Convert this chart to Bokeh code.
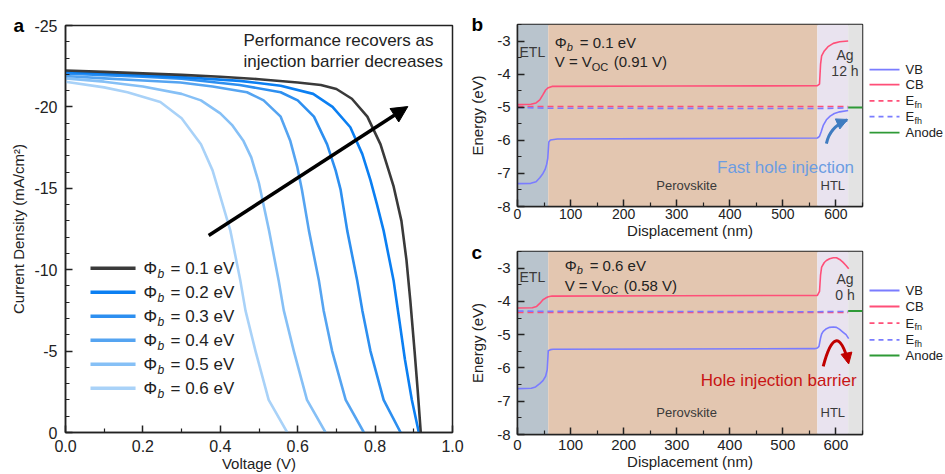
from bokeh.plotting import figure
from bokeh.layouts import row, column
from bokeh.models import Range1d, FixedTicker, Arrow, NormalHead, Title
from bokeh.core.properties import value
from bokeh.embed import file_html
from bokeh.resources import INLINE

FONT = "Liberation Sans"
INK = "#222222"

# ---------------- panel a data (J-V curves) ----------------
barrier_labels = ["0.1", "0.2", "0.3", "0.4", "0.5", "0.6"]
jv_colors = ["#3a3a3a", "#0b7ff2", "#2d8ff0", "#55a4f1", "#86c0f6", "#a9d2f8"]

v_01 = [0.0, 0.1, 0.2, 0.3, 0.4, 0.5, 0.6, 0.66, 0.7, 0.74, 0.78, 0.814, 0.835, 0.848, 0.868, 0.881, 0.891, 0.902, 0.910, 0.918]
j_01 = [-22.24, -22.15, -22.06, -21.97, -21.85, -21.7, -21.5, -21.35, -21.1, -20.5, -19.4, -17.7, -16.1, -15.1, -13.0, -10.6, -8.1, -5.0, -2.6, 0.0]
v_02 = [0.0, 0.1, 0.2, 0.3, 0.45, 0.556, 0.64, 0.69, 0.736, 0.767, 0.788, 0.805, 0.822, 0.848, 0.862, 0.877, 0.895, 0.913]
j_02 = [-22.15, -22.05, -21.95, -21.83, -21.6, -21.3, -20.8, -20.0, -18.75, -17.1, -15.5, -14.0, -12.4, -9.3, -7.0, -4.5, -2.0, 0.0]
v_03 = [0.0, 0.1, 0.2, 0.3, 0.45, 0.556, 0.6, 0.642, 0.676, 0.698, 0.711, 0.728, 0.754, 0.767, 0.788, 0.822, 0.866]
j_03 = [-22.05, -21.95, -21.85, -21.73, -21.35, -20.9, -20.4, -19.4, -17.7, -16.1, -14.9, -12.4, -9.3, -7.5, -5.0, -2.0, 0.0]
v_04 = [0.0, 0.1, 0.2, 0.297, 0.38, 0.469, 0.512, 0.556, 0.581, 0.599, 0.611, 0.629, 0.655, 0.667, 0.689, 0.724, 0.771]
j_04 = [-21.9, -21.75, -21.62, -21.5, -21.25, -20.9, -20.4, -19.4, -17.9, -16.3, -14.9, -12.4, -9.3, -7.5, -5.0, -2.0, 0.0]
v_05 = [0.0, 0.1, 0.2, 0.3, 0.35, 0.4, 0.43, 0.46, 0.48, 0.5, 0.526, 0.551, 0.564, 0.59, 0.624, 0.672]
j_05 = [-21.75, -21.55, -21.25, -20.8, -20.4, -19.6, -18.9, -17.9, -16.9, -15.3, -12.4, -9.3, -7.5, -5.0, -2.0, 0.0]
v_06 = [0.0, 0.1, 0.16, 0.245, 0.3, 0.35, 0.38, 0.395, 0.426, 0.452, 0.465, 0.491, 0.525, 0.573]
j_06 = [-21.55, -21.2, -20.9, -20.3, -19.3, -17.7, -16.1, -14.9, -12.4, -9.3, -7.5, -5.0, -2.0, 0.0]
jv_v = [v_01, v_02, v_03, v_04, v_05, v_06]
jv_j = [j_01, j_02, j_03, j_04, j_05, j_06]

volt_ticks = [0.0, 0.2, 0.4, 0.6, 0.8, 1.0]
volt_minor = [0.1, 0.3, 0.5, 0.7, 0.9]
j_ticks = [-25, -20, -15, -10, -5, 0]
j_minor = [v for v in range(-25, 1) if v % 5 != 0]

# ---------------- panels b/c data (band diagrams) ----------------
layer_edges = [0, 58, 565, 623, 650]
layer_colors = ["#b9c4cd", "#e3c6b0", "#e9e3ef", "#e3e3e3"]

x_cb_b = [0, 25, 35, 42, 48, 53, 58, 65, 300, 565, 569, 571, 573, 578, 585, 595, 607, 623]
cb_b = [-4.92, -4.91, -4.87, -4.78, -4.62, -4.48, -4.41, -4.37, -4.36, -4.35, -4.30, -3.70, -3.45, -3.30, -3.17, -3.07, -3.02, -3.00]
x_vb_b = [0, 25, 35, 42, 48, 52, 55, 57, 59, 62, 75, 300, 565, 569, 572, 576, 582, 589, 597, 607, 623]
vb_b = [-7.31, -7.30, -7.25, -7.13, -7.0, -6.88, -6.72, -6.55, -6.05, -5.99, -5.96, -5.95, -5.93, -5.88, -5.75, -5.55, -5.38, -5.27, -5.19, -5.14, -5.10]
x_efn_b = [0, 623]
efn_b = [-4.98, -4.98]
x_efh_b = [0, 60, 565, 623]
efh_b = [-5.01, -5.03, -5.04, -5.02]
x_anode = [623, 650]
anode_b = [-5.01, -5.01]

x_cb_c = [0, 28, 36, 42, 48, 53, 58, 65, 300, 565, 569, 571, 573, 578, 582, 588, 595, 601, 607, 613, 619, 624]
cb_c = [-4.20, -4.19, -4.15, -4.06, -3.95, -3.90, -3.86, -3.84, -3.83, -3.82, -3.70, -3.20, -2.97, -2.83, -2.77, -2.72, -2.69, -2.69, -2.74, -2.82, -2.92, -3.02]
x_vb_c = [0, 26, 34, 42, 48, 53, 56, 58, 62, 67, 300, 560, 565, 568, 571, 573, 576, 582, 588, 595, 601, 607, 613, 619, 624]
vb_c = [-6.62, -6.61, -6.57, -6.47, -6.38, -6.25, -6.05, -5.48, -5.45, -5.44, -5.43, -5.42, -5.40, -5.35, -5.10, -4.98, -4.90, -4.82, -4.78, -4.77, -4.78, -4.84, -4.92, -5.00, -5.12]
x_efn_c = [0, 623]
efn_c = [-4.33, -4.33]
x_efh_c = [0, 60, 565, 623]
efh_c = [-4.29, -4.30, -4.31, -4.30]
anode_c = [-4.29, -4.29]

nm_ticks = [0, 100, 200, 300, 400, 500, 600]
nm_minor = [50, 150, 250, 350, 450, 550, 650]
e_ticks = [-8, -7, -6, -5, -4, -3]
e_minor = [-7.5, -6.5, -5.5, -4.5, -3.5, -2.5]

VB_COL = "#7a7cff"
CB_COL = "#ff4f78"
AN_COL = "#2e9a36"


def style_axes(p, xt, xm, yt, ym, tick_fs, lab_fs, x_fmt="%g"):
    p.xaxis.ticker = FixedTicker(ticks=xt, minor_ticks=xm)
    p.yaxis.ticker = FixedTicker(ticks=yt, minor_ticks=ym)
    p.xaxis.major_label_overrides = {t: (x_fmt % t) for t in xt}
    p.yaxis.major_label_overrides = {t: ("%g" % t) for t in yt}
    for ax in (p.xaxis[0], p.yaxis[0]):
        ax.major_tick_in = 7
        ax.major_tick_out = 0
        ax.minor_tick_in = 4
        ax.minor_tick_out = 0
        ax.axis_line_width = 1.5
        ax.axis_line_color = INK
        ax.major_tick_line_width = 1.5
        ax.minor_tick_line_width = 1.2
        ax.major_tick_line_color = INK
        ax.minor_tick_line_color = INK
        ax.major_label_text_font = FONT
        ax.major_label_text_color = INK
        ax.major_label_text_font_size = tick_fs
        ax.axis_label_text_font = FONT
        ax.axis_label_text_font_style = "normal"
        ax.axis_label_text_color = INK
        ax.axis_label_text_font_size = lab_fs
    p.xaxis[0].axis_label_standoff = 0
    p.yaxis[0].major_label_standoff = 7
    p.xgrid.visible = False
    p.ygrid.visible = False
    p.outline_line_color = INK
    p.outline_line_width = 1.5
    p.outline_line_alpha = 1.0


def panel_letter(letter, offset, standoff=-20):
    return Title(text=letter, align="left", offset=offset, standoff=standoff, text_font=FONT,
                 text_font_size="19px", text_font_style="bold", text_color="black")


# ================= panel a =================
pa = figure(width=466, height=474, x_range=Range1d(0, 1), y_range=Range1d(0, -25),
            output_backend="svg", toolbar_location=None,
            min_border_left=65, min_border_right=14, min_border_top=25, min_border_bottom=42,
            background_fill_color="white", border_fill_color="white")
style_axes(pa, volt_ticks, volt_minor, j_ticks, j_minor, "16px", "15px", x_fmt="%.1f")
pa.xaxis[0].major_label_standoff = 7
pa.yaxis[0].major_label_standoff = 8
pa.yaxis[0].axis_label_standoff = 4
pa.xaxis.axis_label = "Voltage (V)"
pa.yaxis.axis_label = "Current Density (mA/cm²)"
pa.title = panel_letter("a", -52)

for vv, jj, col in zip(reversed(jv_v), reversed(jv_j), reversed(jv_colors)):
    pa.line(vv, jj, line_color=col, line_width=2.6, line_join="round")

# legend (manual, for subscripts)
leg_rows_a = [-10.09 + 1.474 * i for i in range(6)]
pa.segment(x0=[0.0646] * 6, x1=[0.181] * 6, y0=leg_rows_a, y1=leg_rows_a,
           line_color=jv_colors, line_width=3.5)
pa.text(x=[0.2016] * 6, y=leg_rows_a, text=["Φ"] * 6, text_font=value(FONT),
        text_font_size="17px", text_color=INK, text_baseline="middle", text_align="left")
pa.text(x=[0.2016] * 6, y=[r + 0.33 for r in leg_rows_a], text=["b"] * 6, text_font=value(FONT),
        text_font_size="12px", text_font_style=value("italic"), text_color=INK,
        text_baseline="middle", text_align="left", x_offset=14)
pa.text(x=[0.2016] * 6, y=leg_rows_a, text=["= %s eV" % b for b in barrier_labels],
        text_font=value(FONT), text_font_size="17px", text_color=INK,
        text_baseline="middle", text_align="left", x_offset=27)

pa.text(x=[0.46, 0.46], y=[-24.08, -22.79],
        text=["Performance recovers as", "injection barrier decreases"],
        text_font=value(FONT), text_font_size="17px", text_color=INK,
        text_baseline="middle", text_align="left")
trend_start = (0.370, -12.1)
trend_end = (0.8846, -20.02)
pa.add_layout(Arrow(x_start=trend_start[0], y_start=trend_start[1], x_end=trend_end[0], y_end=trend_end[1],
                    line_width=3.5, line_color="black",
                    end=NormalHead(size=16, fill_color="black", line_color="black")))


# ================= panels b / c =================
def band_fig(height, top, bottom, x_cb, cb, x_vb, vb, x_efn, efn, x_efh, efh, anode,
             letter, letter_standoff, phi_x, phi_y, phi_txt, v_txt, tag_y, age_txt,
             note_txt, note_col, note_x, note_y, tick_standoff, xtick_fs):
    p = figure(width=398, height=height, x_range=Range1d(0, 650), y_range=Range1d(-8, -2.5),
               output_backend="svg", toolbar_location=None,
               min_border_left=48, min_border_right=2, min_border_top=top, min_border_bottom=bottom,
               background_fill_color="white", border_fill_color="white")
    style_axes(p, nm_ticks, nm_minor, e_ticks, e_minor, "15px", "15px")
    p.xaxis[0].major_label_standoff = tick_standoff
    p.xaxis[0].major_label_text_font_size = xtick_fs
    p.yaxis[0].axis_label_standoff = 8
    p.xaxis.axis_label = "Displacement (nm)"
    p.yaxis.axis_label = "Energy (eV)"
    p.title = panel_letter(letter, -46, letter_standoff)
    p.quad(left=layer_edges[:-1], right=layer_edges[1:], bottom=-8, top=-2.5,
           fill_color=layer_colors, line_color=None)
    p.line(x_efn, efn, line_color=CB_COL, line_width=1.6, line_dash="6 4")
    p.line(x_efh, efh, line_color=VB_COL, line_width=1.6, line_dash="6 4")
    p.line(x_anode, anode, line_color=AN_COL, line_width=2)
    p.line(x_cb, cb, line_color=CB_COL, line_width=1.6)
    p.line(x_vb, vb, line_color=VB_COL, line_width=1.6)
    # layer names
    tcol = "#3a3a3a"
    p.text(x=[28], y=[tag_y[0]], text=["ETL"], text_font=value(FONT), text_font_size="14px",
           text_color=tcol, text_align="center", text_baseline="middle")
    p.text(x=[617, 617], y=[tag_y[1], tag_y[2]], text=["Ag", age_txt], text_font=value(FONT),
           text_font_size="14px", text_color=tcol, text_align="center", text_baseline="middle")
    p.text(x=[318.6, 594], y=[tag_y[3], tag_y[3]], text=["Perovskite", "HTL"], text_font=value(FONT),
           text_font_size="13px", text_color=tcol, text_align="center", text_baseline="middle")
    # Phi_b / Voc
    p.text(x=[phi_x], y=[phi_y], text=["Φ"], text_font=value(FONT), text_font_size="15px",
           text_color=INK, text_align="left", text_baseline="middle")
    p.text(x=[phi_x], y=[phi_y - 0.15], text=["b"], text_font=value(FONT), text_font_size="11px",
           text_font_style=value("italic"), text_color=INK, text_align="left", text_baseline="middle",
           x_offset=12)
    p.text(x=[phi_x], y=[phi_y], text=[phi_txt], text_font=value(FONT), text_font_size="15px",
           text_color=INK, text_align="left", text_baseline="middle", x_offset=25)
    p.text(x=[phi_x], y=[phi_y - 0.59], text=["V = V"], text_font=value(FONT), text_font_size="15px",
           text_color=INK, text_align="left", text_baseline="middle")
    p.text(x=[phi_x], y=[phi_y - 0.74], text=["OC"], text_font=value(FONT), text_font_size="11px",
           text_color=INK, text_align="left", text_baseline="middle", x_offset=37)
    p.text(x=[phi_x], y=[phi_y - 0.59], text=[v_txt], text_font=value(FONT), text_font_size="15px",
           text_color=INK, text_align="left", text_baseline="middle", x_offset=59)
    p.text(x=[note_x], y=[note_y], text=[note_txt], text_font=value(FONT), text_font_size="17px",
           text_color=note_col, text_align="center", text_baseline="middle")
    return p


# b: page rows 0..241, frame 24..207 ; c: page rows 241..474, frame 251..434
pb = band_fig(241, 24, 34, x_cb_b, cb_b, x_vb_b, vb_b, x_efn_b, efn_b, x_efh_b, efh_b, anode_b,
              "b", -20, 70.2, -3.04, "= 0.1 eV", "(0.91 V)", [-3.33, -3.43, -3.91, -7.36], "12 h",
              "Fast hole injection", "#6c9de2", 505, -6.82, 2, "14px")
# curved arrow b
arc_b = dict(x0=[582], y0=[-6.1], cx=[588], cy=[-5.6], x1=[621], y1=[-5.38])
pb.quadratic(x0=arc_b["x0"], y0=arc_b["y0"], x1=arc_b["x1"], y1=arc_b["y1"], cx=arc_b["cx"], cy=arc_b["cy"],
             line_color="#3f7cc0", line_width=3)
pb.add_layout(Arrow(x_start=615, y_start=-5.42, x_end=622, y_end=-5.37, line_width=0, line_alpha=0,
                    end=NormalHead(size=11, fill_color="#3f7cc0", line_color="#3f7cc0")))

pc = band_fig(233, 10, 40, x_cb_c, cb_c, x_vb_c, vb_c, x_efn_c, efn_c, x_efh_c, efh_c, anode_c,
              "c", -22, 88.8, -2.92, "= 0.6 eV", "(0.58 V)", [-3.27, -3.34, -3.82, -7.33], "0 h",
              "Hole injection barrier", "#c81414", 492, -6.375, 5, "15px")
arc_c = dict(x0=[576], y0=[-5.95], cx=[600], cy=[-4.5], x1=[623], y1=[-5.8])
pc.quadratic(x0=arc_c["x0"], y0=arc_c["y0"], x1=arc_c["x1"], y1=arc_c["y1"], cx=arc_c["cx"], cy=arc_c["cy"],
             line_color="#c00000", line_width=3)
pc.add_layout(Arrow(x_start=621, y_start=-5.65, x_end=624, y_end=-5.88, line_width=0, line_alpha=0,
                    end=NormalHead(size=11, fill_color="#c00000", line_color="#c00000")))

# ---------------- side legends for b / c ----------------
legend_names = ["VB", "CB", "E", "E", "Anode"]
legend_subs = ["", "", "fn", "fh", ""]
legend_cols = [VB_COL, CB_COL, CB_COL, VB_COL, AN_COL]
legend_dash = ["solid", "solid", "5 4", "5 4", "solid"]


def side_legend(height, top, bottom, frame_top_abs, frame_bottom_abs, rows):
    # y coordinates are page pixels (matching the neighbouring panel's frame)
    q = figure(width=81, height=height, x_range=Range1d(0, 81),
               y_range=Range1d(frame_bottom_abs, frame_top_abs),
               x_axis_type=None, y_axis_type=None, output_backend="svg", toolbar_location=None,
               min_border_left=0, min_border_right=0, min_border_top=top, min_border_bottom=bottom,
               background_fill_color="white", border_fill_color="white")
    q.outline_line_color = None
    q.xgrid.visible = False
    q.ygrid.visible = False
    for yy, col, dash in zip(rows, legend_cols, legend_dash):
        q.line([5, 35], [yy, yy], line_color=col, line_width=1.8, line_dash=dash)
    q.text(x=[41] * 5, y=rows, text=legend_names, text_font=value(FONT), text_font_size="13px",
           text_color=INK, text_align="left", text_baseline="middle")
    q.text(x=[41] * 5, y=[r + 4 for r in rows], text=legend_subs, text_font=value(FONT),
           text_font_size="9px", text_color=INK, text_align="left", text_baseline="middle", x_offset=9)
    return q


lb = side_legend(241, 24, 34, 24, 207, [69.3, 84.5, 100.7, 116.7, 132.7])
lc = side_legend(233, 10, 40, 251, 434, [290.0, 306.0, 322.7, 339.3, 355.0])

layout = row(pa, column(row(pb, lb), row(pc, lc)))
open("out.html", "w").write(file_html(layout, INLINE))
